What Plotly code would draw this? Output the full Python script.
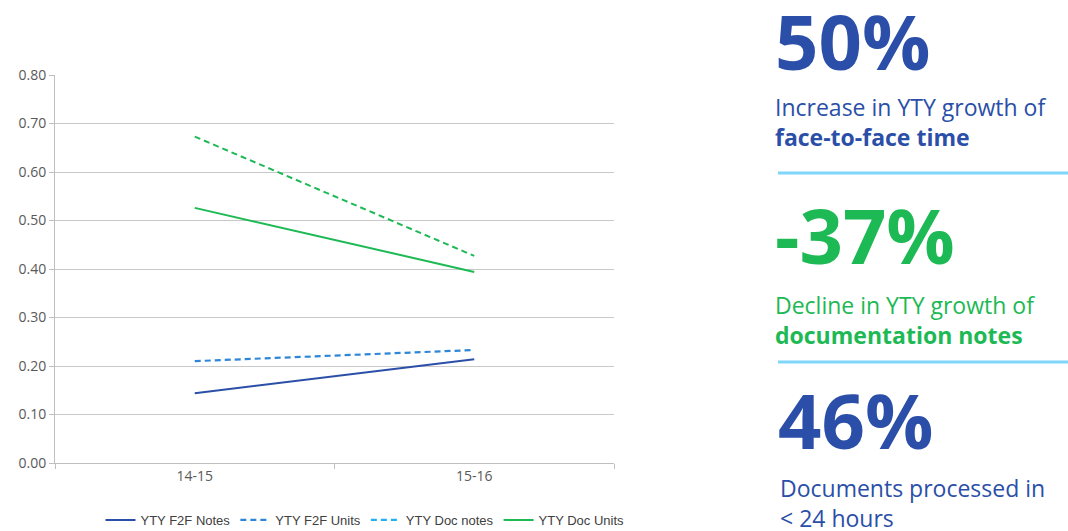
import plotly.graph_objects as go

categories = ["14-15", "15-16"]
f2f_notes = [0.144, 0.214]
f2f_units = [0.210, 0.233]
doc_notes = [0.673, 0.427]
doc_units = [0.526, 0.394]
y_ticks = [0.0, 0.1, 0.2, 0.3, 0.4, 0.5, 0.6, 0.7, 0.8]

W, H = 1068, 531
L, R, T, B = 55, 614, 75, 463


def px(x):
    return (x - L) / (R - L)


def py(y):
    return (B - y) / (B - T)


DARK_BLUE = "#2B4FA8"
MID_BLUE = "#2E86D6"
LIGHT_BLUE = "#1FB2F0"
GREEN = "#1DB954"
FONT = "Open Sans"

fig = go.Figure()
fig.add_trace(go.Scatter(x=categories, y=f2f_notes, mode="lines", name="YTY F2F Notes",
                         line=dict(color=DARK_BLUE, width=2)))
fig.add_trace(go.Scatter(x=categories, y=f2f_units, mode="lines", name="YTY F2F Units",
                         line=dict(color=MID_BLUE, width=2.2, dash="6px,4px")))
fig.add_trace(go.Scatter(x=categories, y=doc_notes, mode="lines", name="YTY Doc notes",
                         line=dict(color=GREEN, width=2, dash="6px,4px"), showlegend=False))
fig.add_trace(go.Scatter(x=[None], y=[None], mode="lines", name="YTY Doc notes",
                         line=dict(color=LIGHT_BLUE, width=2.2, dash="6px,4px")))
fig.add_trace(go.Scatter(x=categories, y=doc_units, mode="lines", name="YTY Doc Units",
                         line=dict(color=GREEN, width=2)))

fig.update_layout(
    width=W, height=H,
    margin=dict(l=L, r=W - R, t=T, b=H - B, autoexpand=False),
    plot_bgcolor="white", paper_bgcolor="white",
    font=dict(family=FONT, color="#595959", size=14),
    showlegend=True,
    legend=dict(orientation="h", xref="container", yref="container",
                x=365 / W, xanchor="center", y=1 - 520 / H, yanchor="middle",
                font=dict(size=13, color="#404040", family="Liberation Sans"),
                itemwidth=30, tracegroupgap=0, bgcolor="rgba(0,0,0,0)"),
    xaxis=dict(type="category", range=[-0.5, 1.5], tickson="boundaries", ticks="outside",
               ticklen=5, tickcolor="#BFBFBF", showline=True, linecolor="#BFBFBF", linewidth=1,
               showgrid=False, zeroline=False, automargin=False,
               tickfont=dict(size=14, color="#595959")),
    yaxis=dict(range=[0, 0.8], tickvals=y_ticks, tickformat=".2f", ticks="outside",
               ticklen=5, tickcolor="#BFBFBF", showline=True, linecolor="#BFBFBF",
               gridcolor="#C9C9C9", gridwidth=1, zeroline=False, automargin=False,
               tickfont=dict(size=14, color="#595959")),
)

anns = [
    ("<b>50%</b>", 773, 40, 76, DARK_BLUE),
    ("Increase in YTY growth of<br><b>face-to-face time</b>", 773, 122, 23, DARK_BLUE),
    ("<b>-37%</b>", 773, 234, 76, GREEN),
    ("Decline in YTY growth of<br><b>documentation notes</b>", 773, 320, 23, GREEN),
    ("<b>46%</b>", 776, 419, 76, DARK_BLUE),
    ("Documents processed in<br>&lt; 24 hours", 778, 503, 23, DARK_BLUE),
]
for text, x, y, size, color in anns:
    fig.add_annotation(
        text=text, align="left",
        x=px(x), y=py(y), xref="paper", yref="paper",
        xanchor="left", yanchor="middle", showarrow=False,
        font=dict(family=FONT, size=size, color=color),
    )

for ysep in (173, 362):
    fig.add_shape(type="line", xref="paper", yref="paper",
                  x0=px(778), x1=px(1068), y0=py(ysep), y1=py(ysep),
                  line=dict(color="#7FD6FA", width=3))

fig.write_html("out.html")
